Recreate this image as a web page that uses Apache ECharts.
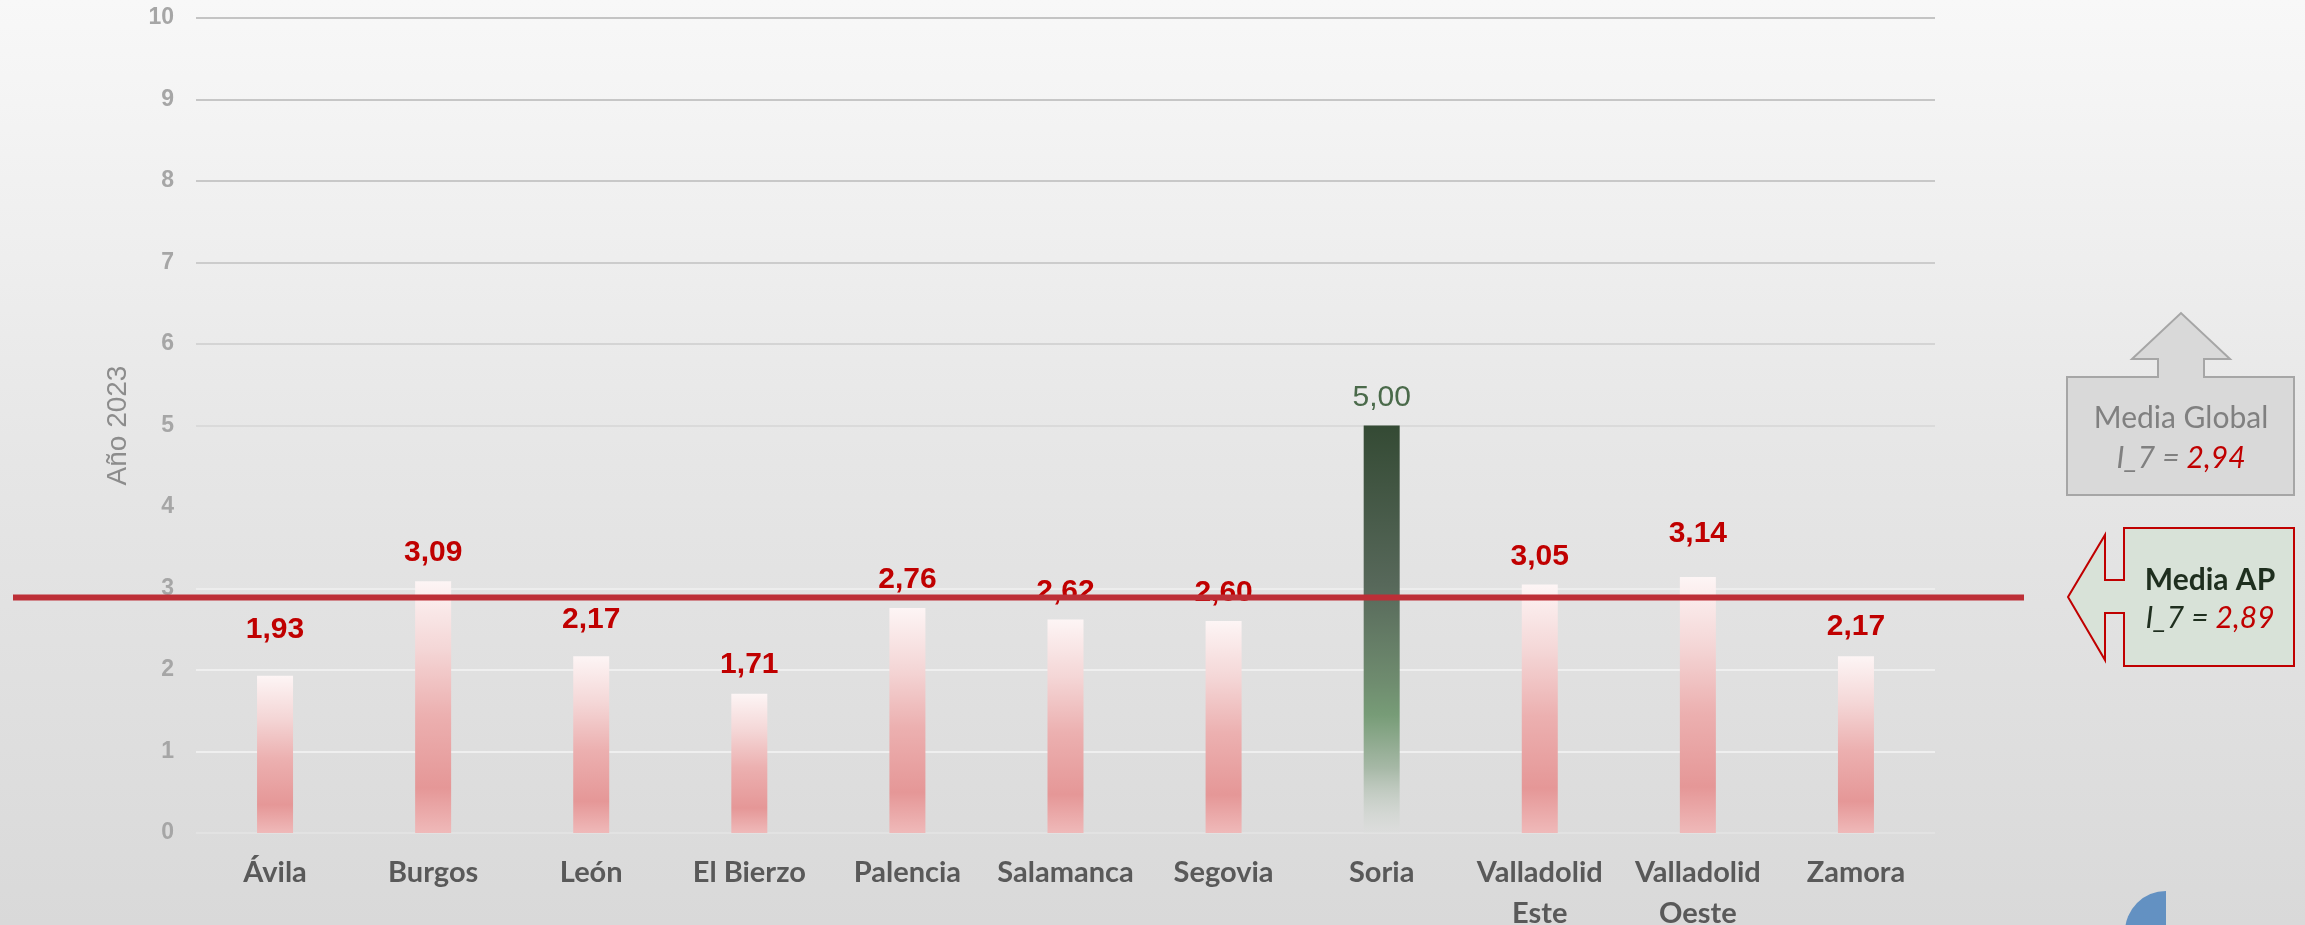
<!DOCTYPE html>
<html>
<head>
<meta charset="utf-8">
<script src="https://cdn.jsdelivr.net/npm/echarts@6/dist/echarts.min.js"></script>
<style>
html,body{margin:0;padding:0;overflow:hidden;}
#c{width:2305px;height:925px;}
</style>
</head>
<body>
<div id="c"></div>
<script>
// ---- data ----
const categories = ['Ávila','Burgos','León','El Bierzo','Palencia','Salamanca','Segovia','Soria','Valladolid\nEste','Valladolid\nOeste','Zamora'];
const values = [1.93, 3.09, 2.17, 1.71, 2.76, 2.62, 2.60, 5.00, 3.05, 3.14, 2.17];
const highlightCategory = 'Soria';
const yTicks = [0,1,2,3,4,5,6,7,8,9,10];
const meanAP = 2.89;
const meanGlobal = 2.94;
const yAxisTitle = 'Año 2023';
// label lift (px) for labels nudged upward in the original
const labelExtraLift = [18, 0, 8, 1, 0, 0, 0, 0, 0, 15, 1];

const fmt = v => v.toFixed(2).replace('.', ',');

const redGrad = new echarts.graphic.LinearGradient(0,0,0,1,[
  {offset:0, color:'#fdf5f5'},
  {offset:0.27, color:'#f4d6d6'},
  {offset:0.53, color:'#ecb0b0'},
  {offset:0.82, color:'#e59797'},
  {offset:1, color:'#efb9b9'}
]);
const greenGrad = new echarts.graphic.LinearGradient(0,0,0,1,[
  {offset:0, color:'#344a34'},
  {offset:0.39, color:'#57685a'},
  {offset:0.63, color:'#6f8c6f'},
  {offset:0.71, color:'#779c77'},
  {offset:0.84, color:'#a6b8a6'},
  {offset:1, color:'rgba(220,222,220,0.4)'}
]);

const barData = values.map((v,i) => {
  const hi = categories[i] === highlightCategory;
  return {
    value: v,
    itemStyle: {color: hi ? greenGrad : redGrad},
    label: {
      distance: 13 + labelExtraLift[i],
      color: hi ? '#4a6a4a' : '#c00000',
      fontWeight: hi ? 'normal' : 'bold'
    }
  };
});

const chart = echarts.init(document.getElementById('c'));
const gridLineColors = ['#e2e2e2','#efefef','#efefef','#ededed','#e5e5e5','#dadada','#d4d4d4','#cccccc','#c8c8c8','#c6c6c6','#c4c4c4'];

chart.setOption({
  animation: false,
  backgroundColor: new echarts.graphic.LinearGradient(0,0,0,1,[
    {offset:0, color:'#f8f8f8'},
    {offset:0.5, color:'#e6e6e6'},
    {offset:1, color:'#d9d9d9'}
  ]),
  grid: {left:196, right:370, top:18, bottom:92, containLabel:false, outerBoundsMode:'none'},
  xAxis: {
    type:'category',
    data: categories,
    axisLine:{show:false},
    axisTick:{show:false},
    axisLabel:{
      interval:0,
      margin:19,
      color:'#595959',
      fontFamily:'Lato',
      fontWeight:'bold',
      fontSize:29,
      lineHeight:41
    }
  },
  yAxis: {
    type:'value',
    min: yTicks[0],
    max: yTicks[yTicks.length-1],
    interval: 1,
    name: yAxisTitle,
    nameLocation:'middle',
    nameGap: 64,
    nameRotate: 90,
    nameTextStyle:{color:'#8c8c8c', fontSize:28, fontFamily:'Liberation Sans'},
    axisLine:{show:false},
    axisTick:{show:false},
    axisLabel:{
      margin:22,
      color:'#a6a6a6',
      fontSize:23,
      fontWeight:'bold',
      fontFamily:'Liberation Sans'
    },
    splitLine:{show:true, lineStyle:{color:gridLineColors, width:2}}
  },
  series: [{
    type:'bar',
    data: barData,
    barWidth: 36,
    label:{
      show:true,
      position:'top',
      fontSize:30,
      fontFamily:'Liberation Sans',
      formatter: p => fmt(p.value)
    }
  }]
});

const yAP = chart.convertToPixel({yAxisIndex:0}, meanAP);

const grayStroke = '#a6a6a6';
chart.setOption({
  graphic: [
    {
      type:'line', z:100,
      shape:{x1:13, y1:yAP, x2:2024, y2:yAP},
      style:{stroke:'#bd2f37', lineWidth:6}
    },
    // Media Global up-arrow callout
    {
      type:'polygon', z:50,
      shape:{points:[[2067,377],[2158,377],[2158,359],[2132,359],[2181,313],[2230,359],[2204,359],[2204,377],[2294,377],[2294,495],[2067,495]]},
      style:{fill:'#d9d9d9', stroke:grayStroke, lineWidth:2}
    },
    {
      type:'text', z:51, x:2181, y:418,
      style:{text:'Media Global', fill:'#808080', font:'30px Lato', align:'center', verticalAlign:'middle'}
    },
    {
      type:'text', z:51, x:2181, y:458,
      style:{
        text:'{a|I_7 = }{b|' + fmt(meanGlobal) + '}',
        align:'center', verticalAlign:'middle',
        rich:{
          a:{fill:'#808080', font:'italic 30px Lato'},
          b:{fill:'#c00000', font:'italic 30px Lato'}
        }
      }
    },
    // Media AP left-arrow callout
    {
      type:'polygon', z:50,
      shape:{points:[[2124,528],[2294,528],[2294,666],[2124,666],[2124,613],[2105,613],[2105,660],[2068,597],[2105,535],[2105,580],[2124,580]]},
      style:{fill:'#d8e2d8', stroke:'#c00000', lineWidth:2}
    },
    {
      type:'text', z:51, x:2210, y:580,
      style:{text:'Media AP', fill:'#1f2f1f', font:'bold 30px Lato', align:'center', verticalAlign:'middle'}
    },
    {
      type:'text', z:51, x:2210, y:618,
      style:{
        text:'{a|I_7 = }{b|' + fmt(meanAP) + '}',
        align:'center', verticalAlign:'middle',
        rich:{
          a:{fill:'#1f2f1f', font:'italic 30px Lato'},
          b:{fill:'#c00000', font:'italic 30px Lato'}
        }
      }
    },
    // blue corner shape
    {
      type:'sector', z:50,
      shape:{cx:2166, cy:932, r:41, startAngle:Math.PI, endAngle:Math.PI*1.5},
      style:{fill:'#6391c2'}
    }
  ]
});
</script>
</body>
</html>
